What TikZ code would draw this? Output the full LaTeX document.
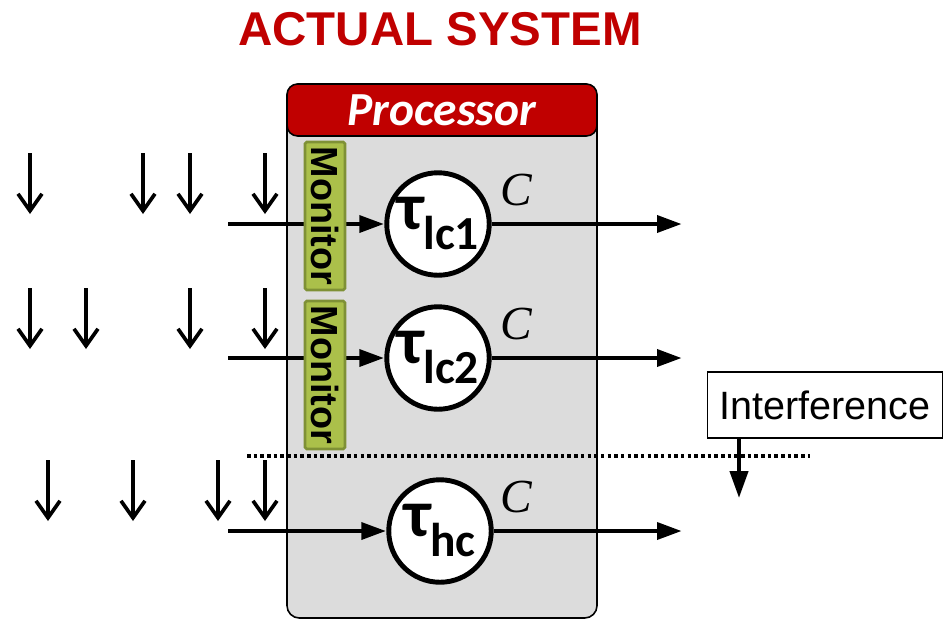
\documentclass[tikz,border=0pt]{standalone}
\usepackage{fontspec}
\setmainfont{Liberation Sans}
\newfontfamily\calfont{Carlito}
\newfontfamily\serfont{Liberation Serif}
\usetikzlibrary{positioning, arrows.meta, calc}

\definecolor{procred}{HTML}{C00000}
\definecolor{procgray}{HTML}{DCDCDC}
\definecolor{monfill}{HTML}{ABC04A}
\definecolor{monline}{HTML}{7F9136}

\tikzset{
    procbox/.style={draw, line width=0.9pt, fill=procgray, rounded corners=7pt},
    header/.style={draw, line width=0.9pt, fill=procred, rounded corners=6pt,
        minimum width=6.2cm, minimum height=1.04cm, inner sep=0pt,
        text=white, font=\calfont\bfseries\itshape\fontsize{27}{27}\selectfont},
    task/.style={circle, draw, line width=2.8pt, fill=white, minimum size=2.05cm,
        inner sep=0pt, font=\calfont\bfseries\fontsize{38}{38}\selectfont},
    monitor/.style={draw=monline, fill=monfill, line width=1.5pt, rounded corners=1pt,
        rotate=-90, minimum width=2.96cm, minimum height=0.8cm, inner sep=0pt,
        font=\bfseries\fontsize{21.5}{21.5}\selectfont},
    flow/.style={line width=2.8pt, -{Triangle[length=5mm, width=3.3mm]}},
    arrival/.style={line width=2.1pt, -{Straight Barb[length=3.4mm, width=4.8mm]}},
    costlbl/.style={font=\serfont\itshape\fontsize{27}{27}\selectfont, inner sep=0pt},
}

\newcommand{\tsub}[1]{\raisebox{-0.3em}{\fontsize{27}{27}\selectfont #1}}

\begin{document}
\begin{tikzpicture}[x=0.02cm, y=-0.02cm]
    \useasboundingbox (0,0) rectangle (950,620);

    % ---- title and processor ----
    \node[anchor=base, text=procred, font=\bfseries\fontsize{27}{27}\selectfont]
        (title) at (440,45) {ACTUAL SYSTEM};
    \draw[procbox] (287,84) rectangle (597,618);
    \node[header] (head) at (442,110) {Processor};

    % ---- tasks ----
    \node[task] (lc1) at (438,224) {τ\tsub{lc1}};
    \node[task] (lc2) at (438,358) {τ\tsub{lc2}};
    \node[task] (hc)  at (440,531) {τ\tsub{hc}};

    \node[costlbl] (c1) at (516,190) {C};
    \node[costlbl] (c2) at (516,324) {C};
    \node[costlbl] (c3) at (516,497) {C};

    % ---- inputs and outputs ----
    \coordinate (in1)  at (228,224);
    \coordinate (in2)  at (228,358);
    \coordinate (in3)  at (228,531);
    \coordinate (out1) at (682,224);
    \coordinate (out2) at (682,358);
    \coordinate (out3) at (682,531);

    \draw[flow] (in1) -- (lc1);
    \draw[flow] (in2) -- (lc2);
    \draw[flow] (in3) -- (hc);
    \draw[flow] (lc1) -- (out1);
    \draw[flow] (lc2) -- (out2);
    \draw[flow] (hc)  -- (out3);

    % ---- monitors ----
    \node[monitor] (mon1) at (325,216) {Monitor};
    \node[monitor] (mon2) at (325,375) {Monitor};

    % ---- job arrivals ----
    \foreach \x in {30,143,190,265}
        \draw[arrival] (\x,153) -- (\x,214);
    \foreach \x in {30,86,190,265}
        \draw[arrival] (\x,288) -- (\x,349);
    \foreach \x in {48,133,218,265}
        \draw[arrival] (\x,460) -- (\x,521);

    % ---- interference ----
    \draw[line width=2pt, dash pattern=on 2pt off 1.8pt] (247,456) -- (810,456);
    \node[draw, line width=0.7pt, minimum width=4.7cm, minimum height=1.32cm,
        inner sep=0pt, font=\fontsize{22.5}{22.5}\selectfont]
        (intf) at (825,405) {Interference};
    \coordinate (intfend) at (739,498);
    \draw[line width=2.4pt, -{Triangle[length=5.4mm, width=3.6mm]}]
        (intfend |- intf.south) -- (intfend);
\end{tikzpicture}
\end{document}
